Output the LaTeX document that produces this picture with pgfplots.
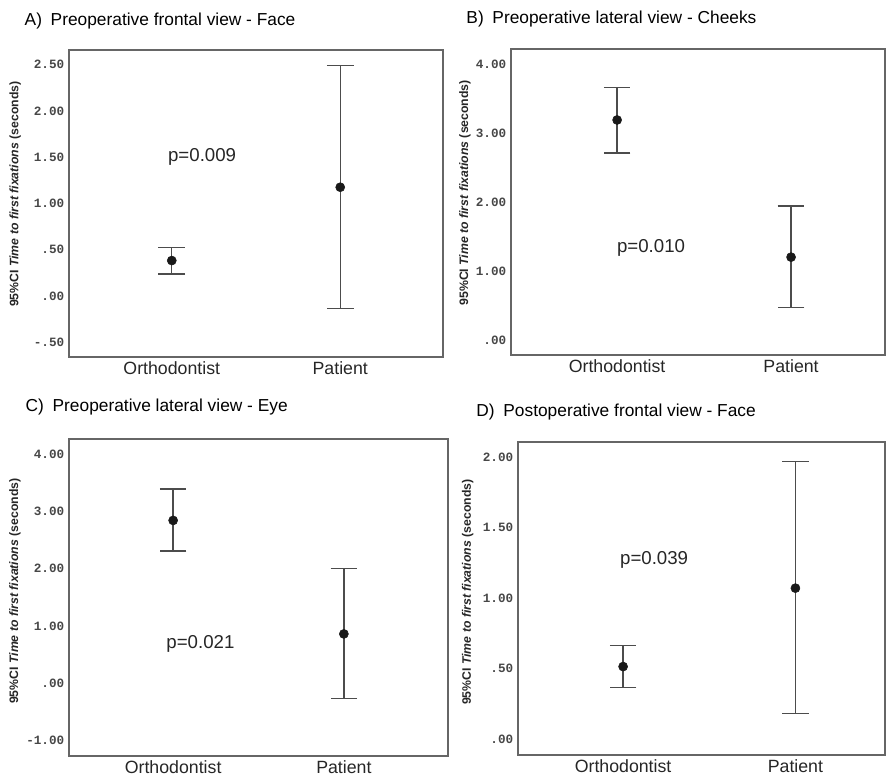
\documentclass[border=0pt]{standalone}
\usepackage{pgfplots}
\pgfplotsset{compat=1.18}
\usepackage{pgfplotstable}
\usepackage{fontspec}
\setmainfont{Liberation Sans}
\newfontfamily\tickfont{Liberation Mono}

% mean and 95% CI limits per group
\pgfplotstableread{
x m lo hi
1 0.383 0.238 0.527
2 1.176 -0.133 2.490
}\dataA
\pgfplotstableread{
x m lo hi
1 3.19 2.71 3.66
2 1.20 0.47 1.94
}\dataB
\pgfplotstableread{
x m lo hi
1 2.84 2.31 3.39
2 0.86 -0.27 2.00
}\dataC
\pgfplotstableread{
x m lo hi
1 0.514 0.365 0.662
2 1.070 0.181 1.967
}\dataD

\pgfplotsset{panel/.style={
  anchor=north west, scale only axis, clip=false,
  xmin=0.39, xtick={1,2}, xticklabels={Orthodontist,Patient},
  axis line style={draw=black!60, line width=0.9pt},
  major tick length=0pt,
  xticklabel style={font=\fontsize{13.3}{15}\selectfont, text=black!85},
  yticklabel style={font=\tickfont\bfseries\fontsize{9.5}{10}\selectfont, text=black!72},
  ylabel={\bfseries 95\%CI \textit{Time to first fixations} (seconds)},
  ylabel style={font=\fontsize{9.2}{11}\selectfont, text=black!85, anchor=center},
},
ci/.style={only marks, mark=*, mark size=3.4pt,
  mark options={fill=black!90, draw=black!90},
  error bars/.cd, y dir=both, y explicit,
  error bar style={line width=1.1pt, draw=black!70},
  error mark options={rotate=90, mark size=10pt, line width=1.1pt, draw=black!70}},
}
\tikzset{pval/.style={font=\fontsize{14}{16}\selectfont, text=black!85}}

\newcommand{\ciplot}[1]{\addplot[ci] table[x=x, y=m,
  y error plus expr=\thisrow{hi}-\thisrow{m},
  y error minus expr=\thisrow{m}-\thisrow{lo}] {#1};}

\begin{document}
\begin{tikzpicture}
\useasboundingbox (0,0) rectangle (665.25pt,-582.75pt);

\node[anchor=west, font=\fontsize{13}{15}\selectfont] at (15pt,-15.75pt) {A)\hspace{0.5em}Preoperative frontal view - Face};
\node[anchor=west, font=\fontsize{13}{15}\selectfont] at (346.3pt,-14.25pt) {B)\hspace{0.5em}Preoperative lateral view - Cheeks};
\node[anchor=west, font=\fontsize{13}{15}\selectfont] at (15.75pt,-305.25pt) {C)\hspace{0.5em}Preoperative lateral view - Eye};
\node[anchor=west, font=\fontsize{13}{15}\selectfont] at (353.8pt,-308.8pt) {D)\hspace{0.5em}Postoperative frontal view - Face};

\begin{axis}[panel, at={(51.75pt,-37.5pt)}, width=280.5pt, height=230.25pt,
  xmax=2.61, ymin=-0.66, ymax=2.66,
  ytick={-0.5,0,0.5,1,1.5,2,2.5},
  yticklabels={-.50,.00,.50,1.00,1.50,2.00,2.50},
  ylabel style={at={(axis description cs:-0.144,0.53)}}]
\ciplot{\dataA}
\node[pval] at (axis cs:1.18,1.50) {p=0.009};
\end{axis}

\begin{axis}[panel, at={(383.25pt,-36.75pt)}, width=280.5pt, height=229.5pt,
  xmax=2.54, ymin=-0.22, ymax=4.22,
  ytick={0,1,2,3,4},
  yticklabels={.00,1.00,2.00,3.00,4.00},
  ylabel style={at={(axis description cs:-0.123,0.53)}}]
\ciplot{\dataB}
\node[pval] at (axis cs:1.195,1.34) {p=0.010};
\end{axis}

\begin{axis}[panel, at={(51.75pt,-329.25pt)}, width=284.25pt, height=237.75pt,
  xmax=2.61, ymin=-1.27, ymax=4.26,
  ytick={-1,0,1,2,3,4},
  yticklabels={-1.00,.00,1.00,2.00,3.00,4.00},
  ylabel style={at={(axis description cs:-0.1425,0.52)}}]
\ciplot{\dataC}
\node[pval] at (axis cs:1.16,0.68) {p=0.021};
\end{axis}

\begin{axis}[panel, at={(388.5pt,-331.5pt)}, width=275.25pt, height=234.75pt,
  xmax=2.52, ymin=-0.113, ymax=2.106,
  ytick={0,0.5,1,1.5,2},
  yticklabels={.00,.50,1.00,1.50,2.00},
  ylabel style={at={(axis description cs:-0.137,0.52)}}]
\ciplot{\dataD}
\node[pval] at (axis cs:1.18,1.27) {p=0.039};
\end{axis}
\end{tikzpicture}
\end{document}
